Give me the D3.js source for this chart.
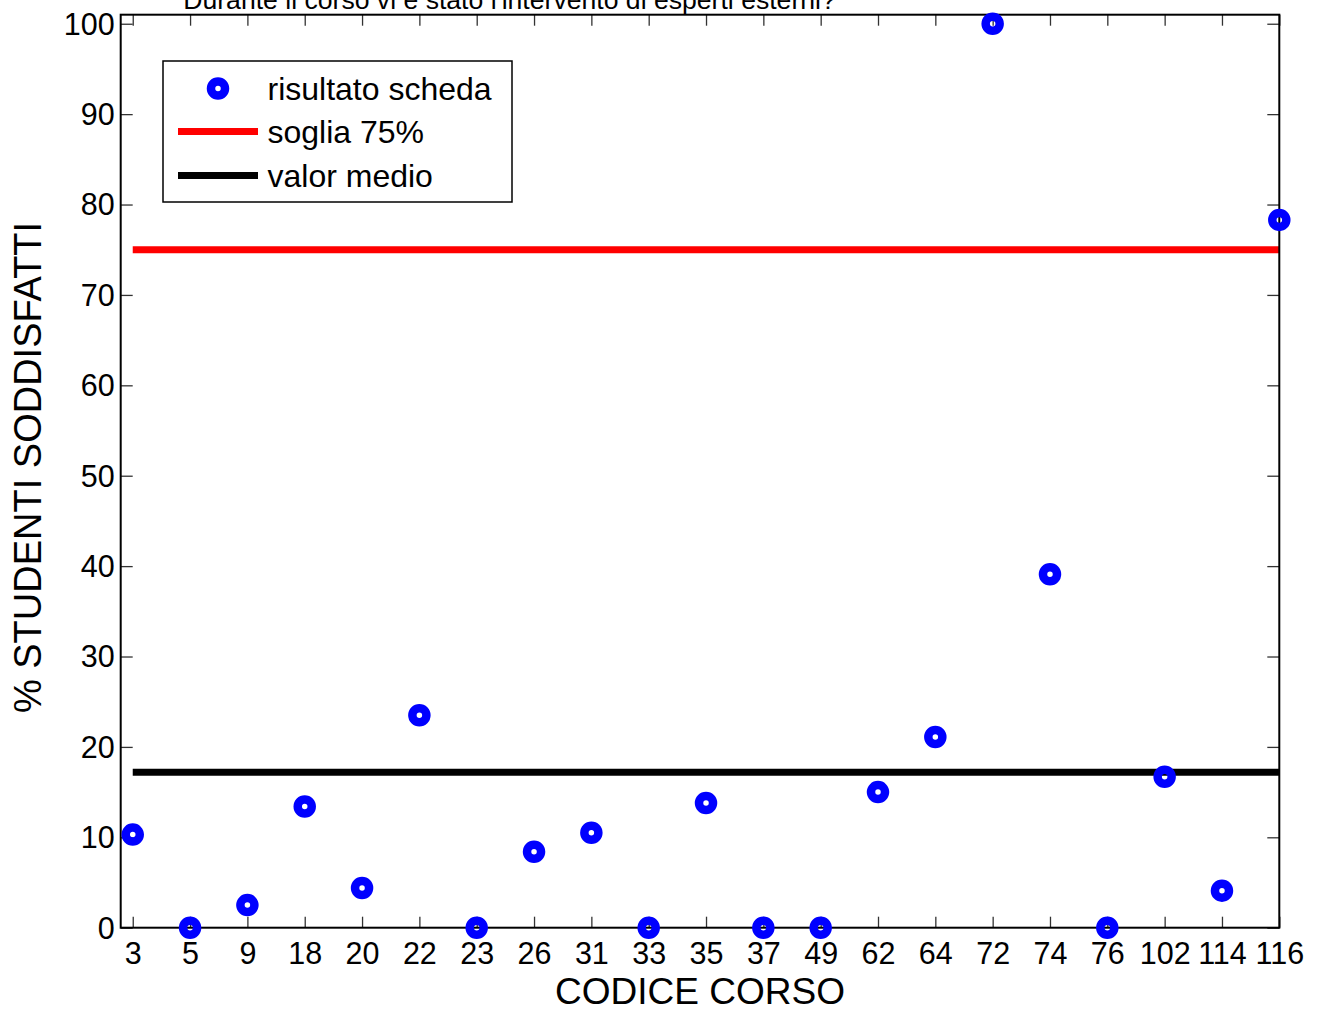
<!DOCTYPE html>
<html>
<head>
<meta charset="utf-8">
<script src="https://cdn.jsdelivr.net/npm/d3@7"></script>
<style>
  html, body { margin: 0; padding: 0; background: #fff; }
  svg { display: block; font-family: "Liberation Sans", Arial, sans-serif; }
</style>
</head>
<body>
<svg id="chart" width="1325" height="1013"></svg>
<script>
// ---- data ----
const courseCodes = ["3","5","9","18","20","22","23","26","31","33","35","37","49","62","64","72","74","76","102","114","116"];
const satisfiedPct = [10.3, 0, 2.5, 13.4, 4.4, 23.5, 0, 8.4, 10.5, 0, 13.8, 0, 0, 15.0, 21.1, 100, 39.1, 0, 16.7, 4.1, 78.3];
const thresholdValue = 75;
const meanValue = 17.2;
const yTickValues = [0, 10, 20, 30, 40, 50, 60, 70, 80, 90, 100];
const legendLabels = ["risultato scheda", "soglia 75%", "valor medio"];
const titleText = "Durante il corso vi è stato l'intervento di esperti esterni?";
const xLabelText = "CODICE CORSO";
const yLabelText = "% STUDENTI SODDISFATTI";

// ---- layout ----
const L = 120.7, R = 1279.3, T = 14.7, B = 927.7;
const svg = d3.select("#chart");

const x = d3.scaleLinear().domain([0.79, 21]).range([L, R]);
const y = d3.scaleLinear().domain([0, 101]).range([B, T]);
const idx = courseCodes.map((_, i) => i + 1);

// threshold and mean lines
const lineData = [
  { v: thresholdValue, color: "#ff0000" },
  { v: meanValue, color: "#000000" }
];
svg.selectAll("line.hl").data(lineData).enter().append("line")
  .attr("class", "hl")
  .attr("x1", x(1)).attr("x2", x(21))
  .attr("y1", d => y(d.v)).attr("y2", d => y(d.v))
  .attr("stroke", d => d.color).attr("stroke-width", 7);

// axes (ticks inward)
const fmtX = i => courseCodes[i - 1];
const axB = svg.append("g").attr("transform", `translate(0,${B})`)
  .call(d3.axisBottom(x).tickValues(idx).tickFormat(fmtX).tickSize(-11));
const axT = svg.append("g").attr("transform", `translate(0,${T})`)
  .call(d3.axisTop(x).tickValues(idx).tickFormat("").tickSize(-11));
const axLft = svg.append("g").attr("transform", `translate(${L},0)`)
  .call(d3.axisLeft(y).tickValues(yTickValues).tickFormat(d3.format("d")).tickSize(-12));
const axRt = svg.append("g").attr("transform", `translate(${R},0)`)
  .call(d3.axisRight(y).tickValues(yTickValues).tickFormat("").tickSize(-12));

[axB, axT, axLft, axRt].forEach(g => {
  g.select(".domain").remove();
  g.selectAll(".tick line").attr("stroke", "#333").attr("stroke-width", 1.3);
  g.selectAll(".tick text").attr("font-size", 30.5).attr("fill", "#000")
    .attr("font-family", "Liberation Sans, Arial, sans-serif");
});
axB.selectAll(".tick text").attr("y", 15).attr("dy", "0.71em");
axLft.selectAll(".tick text").attr("x", -6).attr("dy", "0.34em");

// box
svg.append("rect").attr("x", L).attr("y", T).attr("width", R - L).attr("height", B - T)
  .attr("fill", "none").attr("stroke", "#000").attr("stroke-width", 2);

// markers
svg.selectAll("circle.pt").data(satisfiedPct).enter().append("circle")
  .attr("class", "pt")
  .attr("cx", (d, i) => x(i + 1)).attr("cy", d => y(d))
  .attr("r", 7).attr("fill", "none").attr("stroke", "#0000ff").attr("stroke-width", 8.5);

// title
svg.append("text").attr("x", 509.5).attr("y", 9).attr("text-anchor", "middle")
  .attr("font-size", 26.6).text(titleText);

// axis labels
svg.append("text").attr("x", (L + R) / 2).attr("y", 1004).attr("text-anchor", "middle")
  .attr("font-size", 37).text(xLabelText);
svg.append("text").attr("transform", `translate(41,467.5) rotate(-90)`)
  .attr("text-anchor", "middle").attr("font-size", 38).text(yLabelText);

// legend
const lg = svg.append("g");
lg.append("rect").attr("x", 163).attr("y", 61).attr("width", 349).attr("height", 141)
  .attr("fill", "#fff").attr("stroke", "#000").attr("stroke-width", 1.5);
const rowsY = [88.5, 131.5, 175.5];
lg.append("circle").attr("cx", 218).attr("cy", rowsY[0]).attr("r", 7)
  .attr("fill", "none").attr("stroke", "#0000ff").attr("stroke-width", 8.5);
lg.append("line").attr("x1", 178).attr("x2", 258).attr("y1", rowsY[1]).attr("y2", rowsY[1])
  .attr("stroke", "#ff0000").attr("stroke-width", 7);
lg.append("line").attr("x1", 178).attr("x2", 258).attr("y1", rowsY[2]).attr("y2", rowsY[2])
  .attr("stroke", "#000").attr("stroke-width", 7);
lg.selectAll("text.lt").data(legendLabels).enter().append("text")
  .attr("class", "lt")
  .attr("x", 267.5).attr("y", (d, i) => rowsY[i]).attr("dy", "0.36em")
  .attr("font-size", 32).text(d => d);
</script>
</body>
</html>
